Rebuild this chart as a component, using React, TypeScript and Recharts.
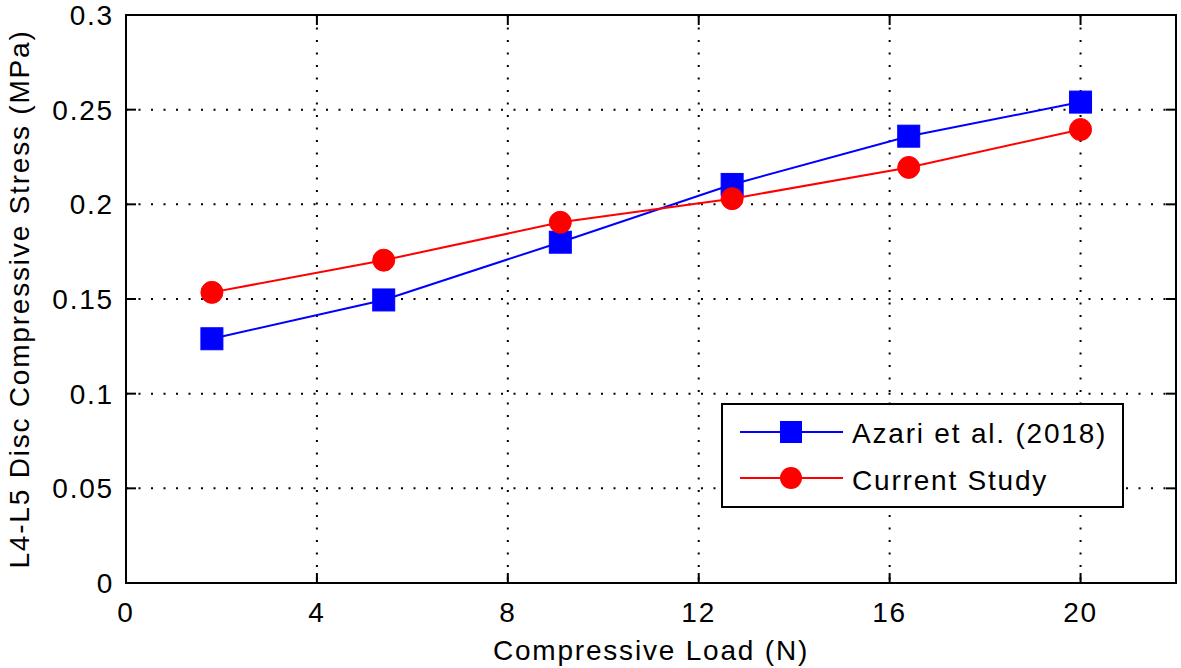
import React from "react";
import { LineChart, Line, XAxis, YAxis, CartesianGrid, ReferenceArea } from "recharts";

const loadsAzari = [1.8, 5.4, 9.1, 12.7, 16.4, 20.0];
const stressAzari = [0.129, 0.1495, 0.18, 0.2105, 0.236, 0.254];
const loadsCurrent = [1.8, 5.4, 9.1, 12.7, 16.4, 20.0];
const stressCurrent = [0.1535, 0.1705, 0.1905, 0.203, 0.2195, 0.2395];
const xTicks = [0, 4, 8, 12, 16, 20];
const yTicks = [0, 0.05, 0.1, 0.15, 0.2, 0.25, 0.3];
const seriesNames = ["Azari et al. (2018)", "Current Study"];

const azari = loadsAzari.map((x, i) => ({ x, y: stressAzari[i] }));
const current = loadsCurrent.map((x, i) => ({ x, y: stressCurrent[i] }));

const FONT = "'Liberation Sans', Arial, sans-serif";
const LS = 1.8;
const W = 1181;
const H = 668;
const PLOT_TOP = 15;
const PLOT_LEFT = 126;
const PLOT_RIGHT = 1176;
const PLOT_BOTTOM = 583;

const Square = (props: any) => {
  const { cx, cy } = props;
  if (cx == null || cy == null) return null;
  return <rect x={cx - 11} y={cy - 11} width={22} height={22} fill="#0000ff" stroke="#0000ff" />;
};
const Dot = (props: any) => {
  const { cx, cy } = props;
  if (cx == null || cy == null) return null;
  return <circle cx={cx} cy={cy} r={11} fill="#ff0000" stroke="#ff0000" />;
};

const XTick = (props: any) => {
  const { x, payload } = props;
  return (
    <g>
      <line x1={x} x2={x} y1={PLOT_BOTTOM} y2={PLOT_BOTTOM - 10} stroke="#000" strokeWidth={2} />
      <line x1={x} x2={x} y1={PLOT_TOP} y2={PLOT_TOP + 10} stroke="#000" strokeWidth={2} />
      <text x={x} y={PLOT_BOTTOM + 39} textAnchor="middle" fontFamily={FONT} fontSize={28} letterSpacing={LS} fill="#000">
        {payload.value}
      </text>
    </g>
  );
};
const YTick = (props: any) => {
  const { y, payload } = props;
  return (
    <g>
      <line x1={PLOT_LEFT} x2={PLOT_LEFT + 10} y1={y} y2={y} stroke="#000" strokeWidth={2} />
      <line x1={PLOT_RIGHT} x2={PLOT_RIGHT - 10} y1={y} y2={y} stroke="#000" strokeWidth={2} />
      <text x={PLOT_LEFT - 12} y={y + 10} textAnchor="end" fontFamily={FONT} fontSize={28} letterSpacing={LS} fill="#000">
        {payload.value}
      </text>
    </g>
  );
};

const LegendBox = () => (
  <div
    style={{
      position: "absolute",
      left: 721,
      top: 403,
      width: 403,
      height: 105,
      border: "2px solid #000",
      background: "#fff",
      boxSizing: "border-box",
    }}
  >
    <svg width={400} height={102} style={{ position: "absolute", left: -2, top: -2 }}>
      <line x1={19} x2={122} y1={29} y2={29} stroke="#0000ff" strokeWidth={2} />
      <rect x={59} y={18} width={22} height={22} fill="#0000ff" />
      <line x1={19} x2={122} y1={75} y2={75} stroke="#ff0000" strokeWidth={2} />
      <circle cx={70} cy={75} r={11} fill="#ff0000" />
      <text x={131} y={40} fontFamily={FONT} fontSize={28} letterSpacing={LS} fill="#000">{seriesNames[0]}</text>
      <text x={131} y={87} fontFamily={FONT} fontSize={28} letterSpacing={LS} fill="#000">{seriesNames[1]}</text>
    </svg>
  </div>
);

export default function App() {
  return (
    <div style={{ position: "absolute", left: 0, top: 0, width: W, height: H, background: "#fff" }}>
      <LineChart width={W} height={H} margin={{ top: PLOT_TOP, right: W - PLOT_RIGHT, left: 0, bottom: 0 }}>
        <CartesianGrid stroke="#000" strokeWidth={2} strokeDasharray="2 10.5" />
        <XAxis
          type="number"
          dataKey="x"
          domain={[0, 22]}
          ticks={xTicks}
          tick={<XTick />}
          tickLine={false}
          axisLine={false}
          height={H - PLOT_BOTTOM}
          allowDataOverflow
          label={{ value: "Compressive Load (N)", position: "insideBottom", offset: 8, fontFamily: FONT, fontSize: 28, letterSpacing: LS, fill: "#000" }}
        />
        <YAxis
          type="number"
          dataKey="y"
          domain={[0, 0.3]}
          ticks={yTicks}
          tick={<YTick />}
          tickLine={false}
          axisLine={false}
          width={PLOT_LEFT}
          allowDataOverflow
          label={{ value: "L4-L5 Disc Compressive Stress (MPa)", angle: -90, position: "insideLeft", offset: 19, style: { textAnchor: "middle" }, fontFamily: FONT, fontSize: 28, letterSpacing: LS, fill: "#000" }}
        />
        <ReferenceArea x1={0} x2={22} y1={0} y2={0.3} fill="none" stroke="#000" strokeWidth={2} ifOverflow="visible" />
        <Line data={azari} dataKey="y" stroke="#0000ff" strokeWidth={2} dot={<Square />} isAnimationActive={false} name={seriesNames[0]} />
        <Line data={current} dataKey="y" stroke="#ff0000" strokeWidth={2} dot={<Dot />} isAnimationActive={false} name={seriesNames[1]} />
      </LineChart>
      <LegendBox />
    </div>
  );
}
